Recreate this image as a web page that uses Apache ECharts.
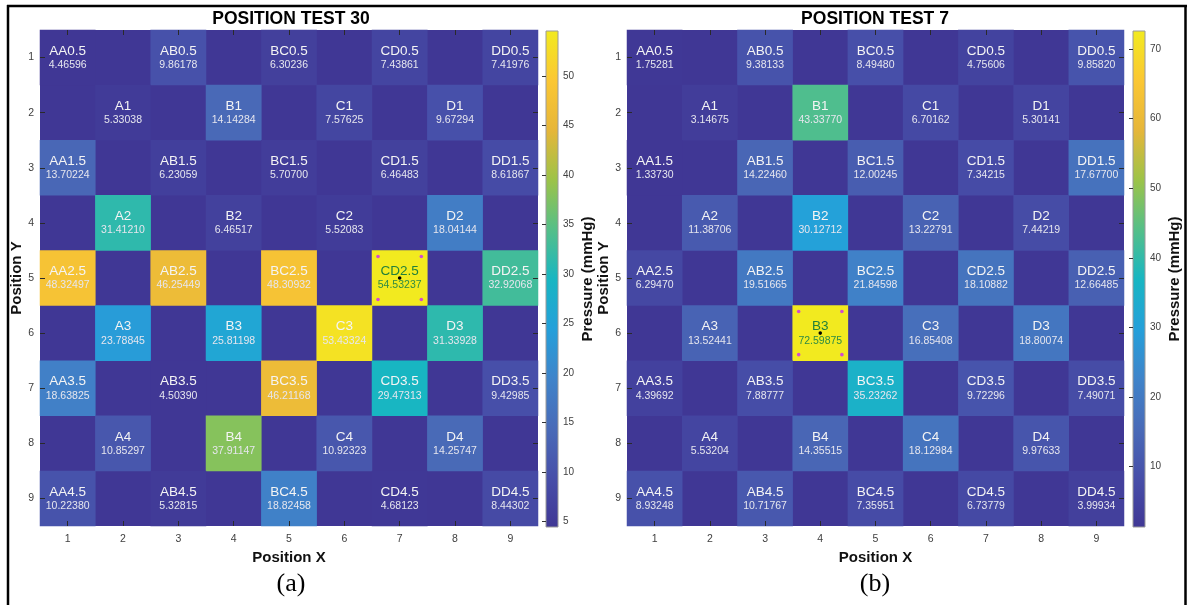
<!DOCTYPE html>
<html><head><meta charset="utf-8">
<script src="https://cdn.jsdelivr.net/npm/echarts@6/dist/echarts.min.js"></script>
<style>html,body{margin:0;padding:0;background:#fff}#chart{width:1189px;height:605px}</style>
</head><body><div id="chart"></div>
<script>
const xCategories = ['1','2','3','4','5','6','7','8','9'];
const yCategories = ['1','2','3','4','5','6','7','8','9'];
const sensorNames = [
  ['AA0.5','AB0.5','BC0.5','CD0.5','DD0.5'],
  ['A1','B1','C1','D1'],
  ['AA1.5','AB1.5','BC1.5','CD1.5','DD1.5'],
  ['A2','B2','C2','D2'],
  ['AA2.5','AB2.5','BC2.5','CD2.5','DD2.5'],
  ['A3','B3','C3','D3'],
  ['AA3.5','AB3.5','BC3.5','CD3.5','DD3.5'],
  ['A4','B4','C4','D4'],
  ['AA4.5','AB4.5','BC4.5','CD4.5','DD4.5']
];
const test30Values = [
  [4.46596, 9.86178, 6.30236, 7.43861, 7.41976],
  [5.33038, 14.14284, 7.57625, 9.67294],
  [13.70224, 6.23059, 5.70700, 6.46483, 8.61867],
  [31.41210, 6.46517, 5.52083, 18.04144],
  [48.32497, 46.25449, 48.30932, 54.53237, 32.92068],
  [23.78845, 25.81198, 53.43324, 31.33928],
  [18.63825, 4.50390, 46.21168, 29.47313, 9.42985],
  [10.85297, 37.91147, 10.92323, 14.25747],
  [10.22380, 5.32815, 18.82458, 4.68123, 8.44302]
];
const test7Values = [
  [1.75281, 9.38133, 8.49480, 4.75606, 9.85820],
  [3.14675, 43.33770, 6.70162, 5.30141],
  [1.33730, 14.22460, 12.00245, 7.34215, 17.67700],
  [11.38706, 30.12712, 13.22791, 7.44219],
  [6.29470, 19.51665, 21.84598, 18.10882, 12.66485],
  [13.52441, 72.59875, 16.85408, 18.80074],
  [4.39692, 7.88777, 35.23262, 9.72296, 7.49071],
  [5.53204, 14.35515, 18.12984, 9.97633],
  [8.93248, 10.71767, 7.35951, 6.73779, 3.99934]
];
const test30Ticks = [5, 10, 15, 20, 25, 30, 35, 40, 45, 50];
const test7Ticks = [10, 20, 30, 40, 50, 60, 70];
const panelTitles = ['POSITION TEST 30', 'POSITION TEST 7'];
const panelTags = ['(a)', '(b)'];
const colormap = ['#403795','#474FA9','#496BB8','#3F84CA','#24A0DA','#18B6C2','#55BF88','#9DC348','#E6B63A','#FBC733','#F2EA1F'];

const FONT = 'Liberation Sans, Arial, sans-serif';

function buildData(values) {
  const out = [];
  values.forEach((row, r) => {
    row.forEach((v, k) => {
      const col = (r % 2 === 0) ? 2 * k : 2 * k + 1;
      out.push({ name: sensorNames[r][k], value: [col, r, v] });
    });
  });
  return out;
}

const panels = [
  { values: test30Values, ticks: test30Ticks, heat: { left: 40, top: 30, width: 498, height: 496 }, bar: { left: 546, top: 31, width: 12, height: 496 }, cx: 291 },
  { values: test7Values, ticks: test7Ticks, heat: { left: 627, top: 30, width: 497, height: 496 }, bar: { left: 1133, top: 31, width: 12, height: 496 }, cx: 875 }
];

const option = {
  backgroundColor: '#fff',
  animation: false,
  textStyle: { fontFamily: FONT },
  title: [], grid: [], xAxis: [], yAxis: [], visualMap: [], series: [],
  graphic: [
    { type: 'line', shape: { x1: 7, y1: 6, x2: 1187, y2: 6 }, style: { stroke: '#000', lineWidth: 2.5 }, z: 100 },
    { type: 'line', shape: { x1: 8, y1: 5, x2: 8, y2: 605 }, style: { stroke: '#000', lineWidth: 2.5 }, z: 100 },
    { type: 'line', shape: { x1: 1185.5, y1: 5, x2: 1185.5, y2: 605 }, style: { stroke: '#000', lineWidth: 2.5 }, z: 100 }
  ]
};

const tickStyle = { show: true, inside: true, alignWithLabel: true, length: 5, lineStyle: { color: '#2a2a2a', width: 1 } };

panels.forEach((p, i) => {
  const data = buildData(p.values);
  const flat = p.values.flat();
  const vmin = Math.min(...flat), vmax = Math.max(...flat);
  const maxItem = data.find(d => d.value[2] === vmax);
  const g0 = i * 2, g1 = i * 2 + 1;
  const ax = i * 3;

  option.title.push({ text: panelTitles[i], left: p.cx, top: 10, textAlign: 'center', padding: 0,
    textStyle: { fontFamily: FONT, fontSize: 17.5, fontWeight: 'bold', color: '#000' } });
  option.title.push({ text: panelTags[i], left: p.cx, top: 571, textAlign: 'center', padding: 0,
    textStyle: { fontFamily: 'Liberation Serif, Times New Roman, serif', fontSize: 26, fontWeight: 'normal', color: '#000' } });

  option.grid.push(Object.assign({ show: true, backgroundColor: colormap[0], borderWidth: 0, containLabel: false }, p.heat));
  option.grid.push(Object.assign({ show: true, borderColor: '#9a9a9a', borderWidth: 1, containLabel: false,
    backgroundColor: new echarts.graphic.LinearGradient(0, 1, 0, 0, colormap.map((c, j) => ({ offset: j / (colormap.length - 1), color: c }))) }, p.bar));

  option.xAxis.push({ type: 'category', gridIndex: g0, data: xCategories, position: 'bottom', z: 5,
    axisLine: { show: false }, axisTick: tickStyle, splitLine: { show: false },
    axisLabel: { color: '#404040', fontSize: 10.5, margin: 8, fontFamily: FONT },
    name: 'Position X', nameLocation: 'middle', nameGap: 22,
    nameTextStyle: { fontFamily: FONT, fontSize: 15, fontWeight: 'bold', color: '#111' } });
  option.xAxis.push({ type: 'category', gridIndex: g0, data: xCategories, position: 'top', z: 5,
    axisLine: { show: false }, axisTick: tickStyle, axisLabel: { show: false }, splitLine: { show: false } });
  option.xAxis.push({ type: 'value', gridIndex: g1, show: false, min: 0, max: 1 });

  option.yAxis.push({ type: 'category', gridIndex: g0, data: yCategories, inverse: true, position: 'left', z: 5,
    axisLine: { show: false }, axisTick: tickStyle, splitLine: { show: false },
    axisLabel: { color: '#404040', fontSize: 10.5, margin: 6, fontFamily: FONT },
    name: 'Position Y', nameLocation: 'middle', nameGap: 14,
    nameTextStyle: { fontFamily: FONT, fontSize: 15, fontWeight: 'bold', color: '#111' } });
  option.yAxis.push({ type: 'category', gridIndex: g0, data: yCategories, inverse: true, position: 'right', z: 5,
    axisLine: { show: false }, axisTick: tickStyle, axisLabel: { show: false }, splitLine: { show: false } });
  option.yAxis.push({ type: 'value', gridIndex: g1, position: 'right', min: vmin, max: vmax, z: 5,
    axisLine: { show: false }, splitLine: { show: false },
    axisTick: { show: true, inside: true, length: 4, lineStyle: { color: '#333', width: 1 }, customValues: p.ticks },
    axisLabel: { customValues: p.ticks, color: '#404040', fontSize: 10, margin: 5, fontFamily: FONT },
    name: 'Pressure (mmHg)', nameLocation: 'middle', nameGap: 22,
    nameTextStyle: { fontFamily: FONT, fontSize: 15, fontWeight: 'bold', color: '#111' } });

  const heatIndex = option.series.length;
  option.series.push({
    type: 'heatmap', xAxisIndex: ax, yAxisIndex: ax, data: data, z: 2,
    emphasis: { disabled: true },
    label: {
      show: true,
      formatter: (prm) => {
        const isMax = prm.value[2] === vmax;
        const v = prm.value[2].toFixed(5);
        return isMax ? `{nm|${prm.name}}\n{vm|${v}}` : `{n|${prm.name}}\n{v|${v}}`;
      },
      rich: {
        n: { fontFamily: FONT, fontSize: 13.5, color: '#f4f4f4', lineHeight: 15, align: 'center' },
        v: { fontFamily: FONT, fontSize: 10.5, color: '#e6e6ee', lineHeight: 13, align: 'center' },
        nm: { fontFamily: FONT, fontSize: 13.5, color: '#23803A', lineHeight: 15, align: 'center' },
        vm: { fontFamily: FONT, fontSize: 10.5, color: '#2E8B45', lineHeight: 13, align: 'center' }
      }
    }
  });
  option.visualMap.push({ type: 'continuous', show: false, min: vmin, max: vmax, seriesIndex: heatIndex,
    dimension: 2, inRange: { color: colormap } });

  option.series.push({
    type: 'custom', xAxisIndex: ax, yAxisIndex: ax, z: 4,
    data: [[maxItem.value[0], maxItem.value[1]]],
    renderItem: (params, api) => {
      const c = api.coord([api.value(0), api.value(1)]);
      const s = api.size([1, 1]);
      const dx = s[0] / 2 - 6, dy = s[1] / 2 - 6;
      const dot = (x, y, color) => ({ type: 'circle', shape: { cx: x, cy: y, r: 1.8 }, style: { fill: color } });
      return { type: 'group', children: [
        dot(c[0] - dx, c[1] - dy, '#D24BCF'), dot(c[0] + dx, c[1] - dy, '#D24BCF'),
        dot(c[0] - dx, c[1] + dy, '#D24BCF'), dot(c[0] + dx, c[1] + dy, '#D24BCF'),
        dot(c[0], c[1], '#000')
      ] };
    }
  });
});

const chart = echarts.init(document.getElementById('chart'), null, { renderer: 'canvas' });
chart.setOption(option);
</script>
</body></html>
